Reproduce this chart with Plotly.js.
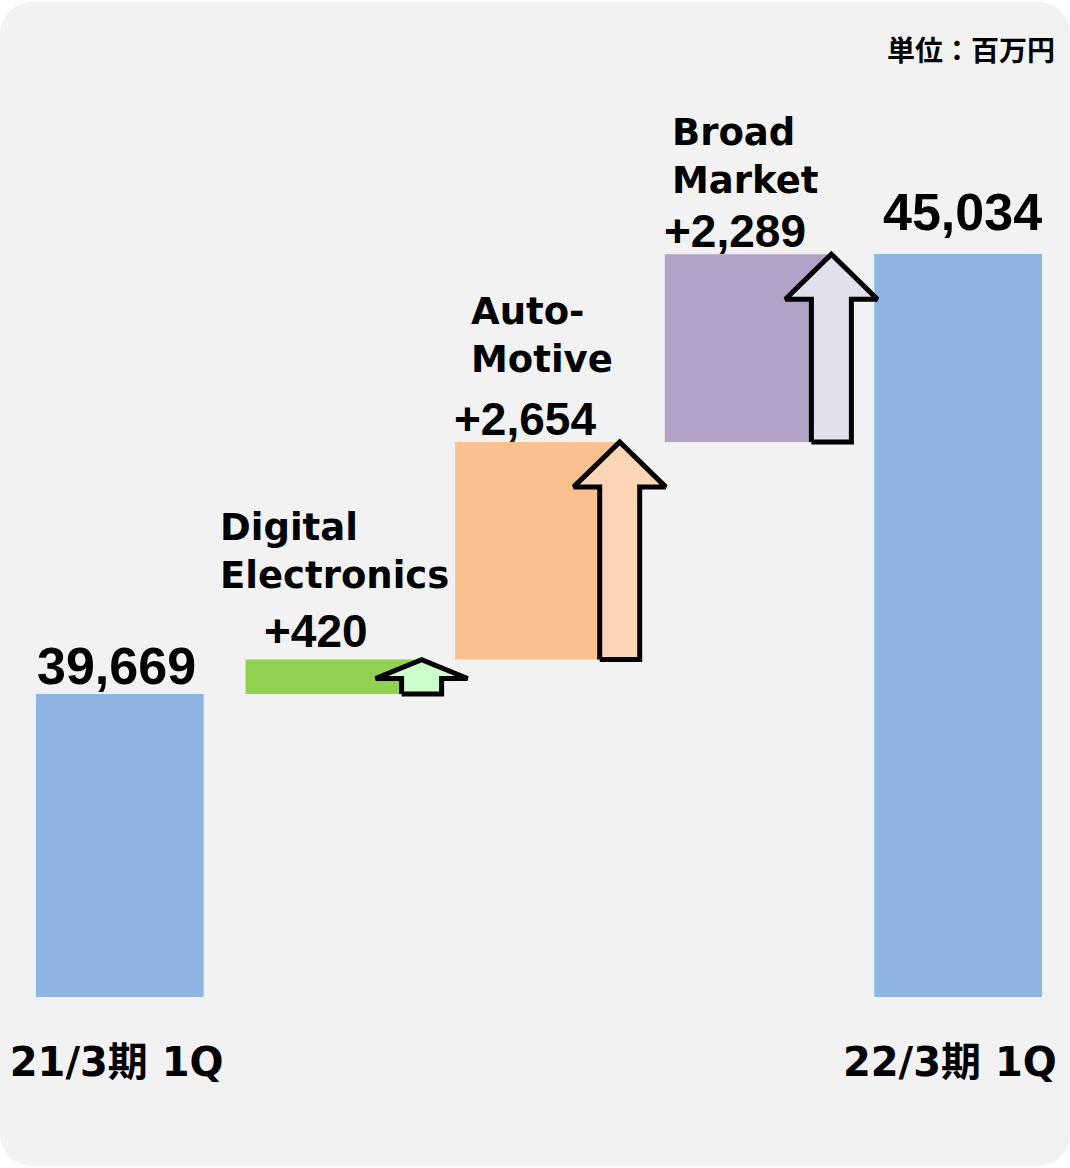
<!DOCTYPE html>
<html><head><meta charset="utf-8">
<script src="https://cdn.plot.ly/plotly-3.0.1.min.js"></script>
<style>
html,body{margin:0;padding:0;background:#fff;}
#card{position:absolute;left:0;top:2px;width:1070px;height:1164px;border-radius:32px;background:#f2f2f2;}
#chart{position:absolute;left:0;top:0;width:1070px;height:1168px;}
</style></head><body>
<div id="card"></div><div id="chart"></div>
<script>
// ---- data ----
const categories = ['21/3期 1Q', 'Digital Electronics', 'Auto-Motive', 'Broad Market', '22/3期 1Q'];
const segmentNames = ['', 'Digital<br>Electronics', 'Auto-<br>Motive', 'Broad<br>Market', ''];
const measures = ['absolute', 'relative', 'relative', 'relative', 'total'];
const values = [39669, 420, 2654, 2289, 45034];
const valueLabels = ['39,669', '+420', '+2,654', '+2,289', '45,034'];
const tickLabels = ['21/3期 1Q', '22/3期 1Q'];
const barColors = ['#8eb4e3', '#92d050', '#fac090', '#b3a2c7', '#8eb4e3'];
const arrowColors = [null, '#ccffcc', '#fcd5b5', '#e4dfec', null];
const unitLabel = '単位：百万円';

// ---- build waterfall geometry ----
const xs = categories.map((c, i) => i);
const bases = [], heights = [], tops = [];
let running = 0;
measures.forEach((m, i) => {
  if (m === 'relative') {
    bases.push(running); heights.push(values[i]); running += values[i];
  } else {
    bases.push(0); heights.push(values[i]); running = values[i];
  }
  tops.push(bases[i] + heights[i]);
});

const yRange = [35975, 48131];
const plotH = 997, plotW = 1048;
const pxY = (yRange[1] - yRange[0]) / plotH;
const pxX = 5 / plotW;

const traces = [{
  type: 'bar', x: xs, y: heights, base: bases, width: 0.8,
  marker: {color: barColors, line: {width: 0}}, hoverinfo: 'none'
}];

const arrowOffsets = [0, 0.44, 0.385, 0.395, 0];
measures.forEach((m, i) => {
  if (m !== 'relative') return;
  const cx = i + arrowOffsets[i];
  const b = bases[i], t = tops[i];
  const hPx = values[i] / pxY;
  const headPx = Math.min(45, hPx * 0.55);
  const hh = headPx * pxY, hw = 46 * pxX, sw = 20 * pxX;
  traces.push({
    type: 'scatter', mode: 'lines', fill: 'toself', fillcolor: arrowColors[i],
    line: {color: '#000', width: 5},
    x: [cx - sw, cx - sw, cx - hw, cx, cx + hw, cx + sw, cx + sw, cx - sw],
    y: [b, t - hh, t - hh, t, t - hh, t - hh, b, b],
    hoverinfo: 'none'
  });
});

const numFont = 'Liberation Sans, Arial, sans-serif';
const nameFont = 'DejaVu Sans, Verdana, sans-serif';
const annotations = [];
const valueGap = [-3, 1, -5, -5, 11];
const valueXShift = [-3, 16, -3, -3, 4];
const nameGap = [0, 61, 59, 50, 0];
const nameXShift = [0, -28, 14, 5, 0];
measures.forEach((m, i) => {
  if (m === 'relative') {
    annotations.push({x: i - 0.4, y: tops[i], xref: 'x', yref: 'y', xanchor: 'left', yanchor: 'bottom',
      xshift: valueXShift[i], yshift: valueGap[i], showarrow: false, text: valueLabels[i],
      font: {family: numFont, size: 46, color: '#000', weight: 'bold'}});
    annotations.push({x: i - 0.4, y: tops[i], xref: 'x', yref: 'y', xanchor: 'left', yanchor: 'bottom',
      xshift: nameXShift[i], yshift: nameGap[i], showarrow: false, text: segmentNames[i], align: 'left',
      font: {family: nameFont, size: 37, color: '#000', weight: 'bold'}});
  } else {
    annotations.push({x: i, y: tops[i], xref: 'x', yref: 'y', xanchor: 'center', yanchor: 'bottom',
      xshift: valueXShift[i], yshift: valueGap[i], showarrow: false, text: valueLabels[i],
      font: {family: numFont, size: 52, color: '#000', weight: 'bold'}});
  }
});
annotations.push({x: 1, y: 1, xref: 'paper', yref: 'paper', xanchor: 'right', yanchor: 'top',
  xshift: -6, yshift: -27, showarrow: false, text: unitLabel,
  font: {family: 'Noto Sans CJK JP, sans-serif', size: 28, color: '#000', weight: 'bold'}});

const layout = {
  width: 1070, height: 1168,
  margin: {l: 15, r: 7, t: 0, b: 171, pad: 0},
  paper_bgcolor: 'rgba(0,0,0,0)', plot_bgcolor: 'rgba(0,0,0,0)',
  showlegend: false, bargap: 0.2,
  xaxis: {range: [-0.5, 4.5], tickvals: [xs[0] - 0.015, xs[4] - 0.04], ticktext: tickLabels,
    showgrid: false, zeroline: false,
    showline: false, ticks: '', ticklabelstandoff: 38, fixedrange: true,
    tickfont: {family: 'DejaVu Sans, Noto Sans CJK JP, sans-serif', size: 40, color: '#000', weight: 'bold'}},
  yaxis: {range: yRange, visible: false, fixedrange: true},
  annotations: annotations
};

Plotly.newPlot('chart', traces, layout, {displayModeBar: false, staticPlot: true});
</script>
</body></html>
